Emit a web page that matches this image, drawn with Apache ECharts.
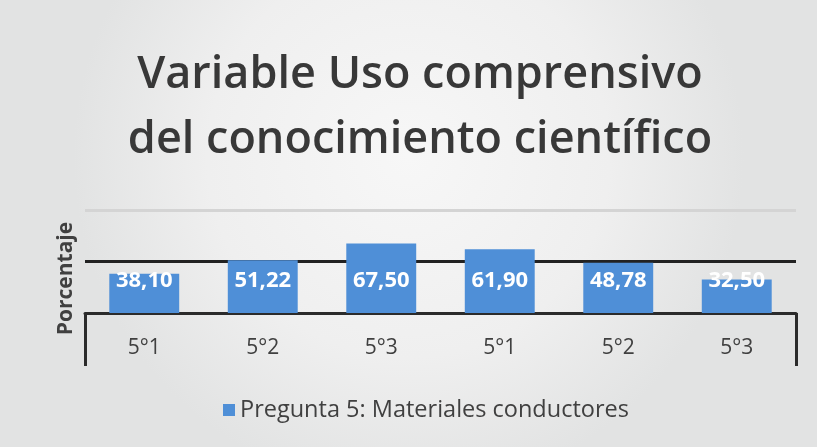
<!DOCTYPE html>
<html>
<head>
<meta charset="utf-8">
<script src="https://cdn.jsdelivr.net/npm/echarts@6/dist/echarts.min.js"></script>
<style>html,body{margin:0;padding:0;background:#fff;}#c{width:817px;height:447px;}</style>
</head>
<body>
<div id="c"></div>
<script>
const titleText = 'Variable Uso comprensivo\ndel conocimiento científico';
const categories = ['5°1', '5°2', '5°3', '5°1', '5°2', '5°3'];
const seriesName = 'Pregunta 5: Materiales conductores';
const values = [38.10, 51.22, 67.50, 61.90, 48.78, 32.50];
const yTicks = [0, 50, 100];

const chart = echarts.init(document.getElementById('c'));
chart.setOption({
  backgroundColor: {
    type: 'radial', x: 0.5, y: 0.35, r: 0.75,
    colorStops: [{offset: 0, color: '#f7f7f7'}, {offset: 0.6, color: '#efefef'}, {offset: 1, color: '#e2e3e3'}]
  },
  animation: false,
  title: {
    text: titleText,
    left: 415, top: 38, textAlign: 'center',
    textStyle: {fontFamily: 'Open Sans', fontSize: 45, fontWeight: 600, color: '#383838', lineHeight: 65}
  },
  legend: {
    bottom: 20, left: 218,
    itemWidth: 12, itemHeight: 12, icon: 'rect', itemGap: 8,
    textStyle: {fontFamily: 'Open Sans', fontSize: 23.5, color: '#404040'}
  },
  grid: {left: 85, right: 21, top: 210, bottom: 134},
  xAxis: {
    type: 'category', data: categories,
    axisLine: {lineStyle: {color: '#2b2b2b', width: 3}},
    axisTick: {show: true, length: 53, interval: function (i) { return i === 0; }, lineStyle: {color: '#2b2b2b', width: 3}},
    axisLabel: {margin: 25, fontFamily: 'Open Sans', fontSize: 21, color: '#404040'}
  },
  yAxis: {
    type: 'value', min: yTicks[0], max: yTicks[yTicks.length - 1], interval: 50,
    name: 'Porcentaje', nameLocation: 'middle', nameGap: 8,
    nameTextStyle: {fontFamily: 'Open Sans', fontSize: 21, fontWeight: 'bold', color: '#404040', padding: [0, 34, 0, 0]},
    axisLine: {show: false}, axisTick: {show: false}, axisLabel: {show: false},
    splitLine: {lineStyle: {color: ['#222222', '#222222', '#d4d4d4'], width: [3]}}
  },
  series: [{
    name: seriesName, type: 'bar', data: values, barWidth: '59%',
    itemStyle: {color: '#4f8fd7'},
    label: {
      show: true, position: 'insideBottom', distance: 21,
      formatter: p => p.value.toFixed(2).replace('.', ','),
      fontFamily: 'Open Sans', fontSize: 22, fontWeight: 'bold', color: '#ffffff'
    }
  }]
});
</script>
</body>
</html>
